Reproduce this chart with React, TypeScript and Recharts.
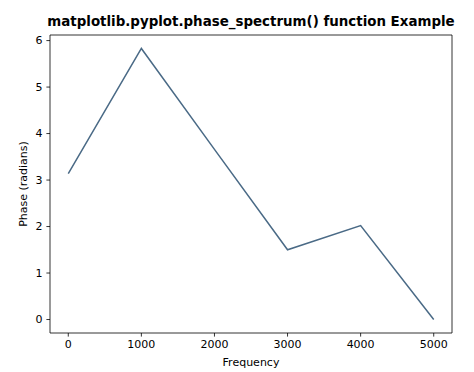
import { LineChart, Line, XAxis, YAxis, ReferenceArea } from 'recharts';

// phase spectrum
const frequencies = [0, 1000, 2000, 3000, 4000, 5000];
const phases = [3.14, 5.83, 3.66, 1.5, 2.02, 0];
const xTicks = [0, 1000, 2000, 3000, 4000, 5000];
const yTicks = [0, 1, 2, 3, 4, 5, 6];

const chartData = frequencies.map((f, i) => ({ freq: f, phase: phases[i] }));

const font = 'DejaVu Sans, sans-serif';

export default function App() {
  return (
    <div style={{ position: 'absolute', left: 0, top: 0, width: 474, height: 372, background: '#fff', fontFamily: font }}>
      <div
        style={{
          position: 'absolute',
          left: 30,
          width: 442,
          top: 14,
          lineHeight: '16px',
          textAlign: 'center',
          fontSize: 13.4,
          fontWeight: 'bold',
          color: '#000',
          whiteSpace: 'nowrap',
        }}
      >
        matplotlib.pyplot.phase_spectrum() function Example
      </div>
      <LineChart width={474} height={372} data={chartData} margin={{ top: 35, right: 22, bottom: 0, left: 0 }}>
        <XAxis
          dataKey="freq"
          type="number"
          domain={[-250, 5250]}
          ticks={xTicks}
          height={39}
          axisLine={false}
          tickSize={3.6}
          tickMargin={4}
          tickLine={{ stroke: '#000', strokeWidth: 0.8 }}
          tick={{ fill: '#000', fontSize: 11, fontFamily: font }}
          label={{ value: 'Frequency', position: 'insideBottom', offset: 6, fill: '#000', fontSize: 11, fontFamily: font }}
          allowDataOverflow
        />
        <YAxis
          type="number"
          domain={[-0.29, 6.12]}
          ticks={yTicks}
          width={50}
          axisLine={false}
          tickSize={3.6}
          tickMargin={4}
          tickLine={{ stroke: '#000', strokeWidth: 0.8 }}
          tick={{ fill: '#000', fontSize: 11, fontFamily: font }}
          label={{ value: 'Phase (radians)', angle: -90, position: 'center', dx: -2, fill: '#000', fontSize: 11, fontFamily: font }}
          allowDataOverflow
        />
        <ReferenceArea x1={-250} x2={5250} y1={-0.29} y2={6.12} fill="none" stroke="#000" strokeWidth={0.8} ifOverflow="visible" />
        <Line
          type="linear"
          dataKey="phase"
          stroke="#4a6a86"
          strokeWidth={1.5}
          dot={false}
          isAnimationActive={false}
        />
      </LineChart>
    </div>
  );
}
